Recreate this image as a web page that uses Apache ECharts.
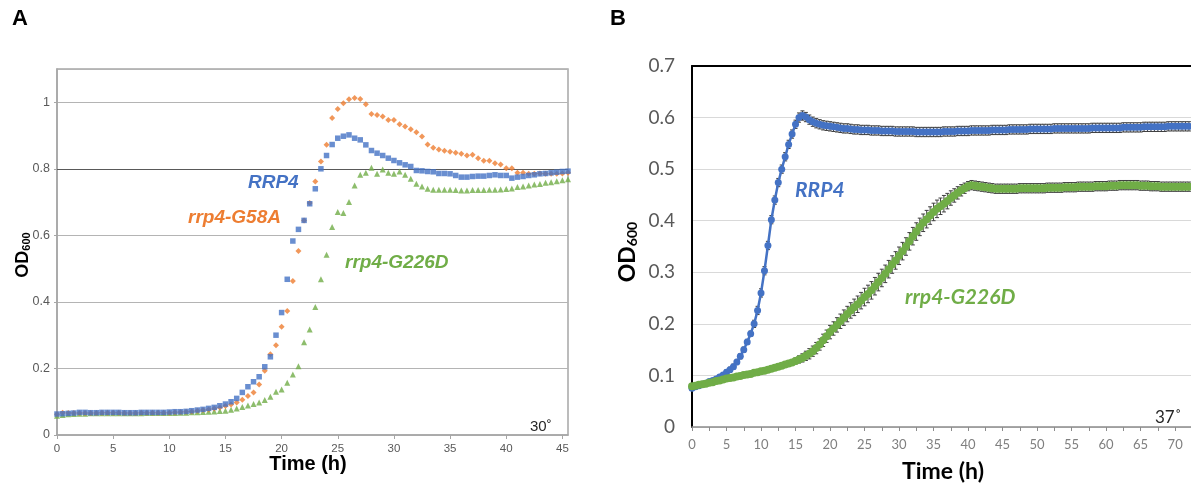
<!DOCTYPE html>
<html>
<head>
<meta charset="utf-8">
<script src="https://cdn.jsdelivr.net/npm/echarts@6/dist/echarts.min.js"></script>
<style>html,body{margin:0;padding:0;background:#fff}#c{width:1191px;height:486px}</style>
</head>
<body>
<div id="c"></div>
<script>
// ---------- Panel A (30°) : readings every 0.5 h from 0 to 45.5 h ----------
const stepA = 0.5;
const xTicksA = [0, 5, 10, 15, 20, 25, 30, 35, 40, 45];
const yTicksA = [0, 0.2, 0.4, 0.6, 0.8, 1];
const rrp4A = [
 0.063,0.064,0.065,0.066,0.068,0.068,0.067,0.067,0.068,0.068,
 0.068,0.068,0.067,0.067,0.067,0.068,0.068,0.068,0.068,0.068,
 0.069,0.070,0.070,0.071,0.073,0.075,0.077,0.080,0.083,0.088,
 0.093,0.100,0.110,0.128,0.145,0.160,0.175,0.205,0.235,0.300,
 0.368,0.468,0.583,0.618,0.645,0.695,0.740,0.800,0.840,0.873,
 0.892,0.898,0.902,0.892,0.887,0.872,0.855,0.847,0.840,0.832,
 0.825,0.818,0.812,0.807,0.795,0.794,0.792,0.791,0.786,0.786,
 0.785,0.780,0.775,0.775,0.777,0.778,0.778,0.780,0.782,0.780,
 0.780,0.772,0.775,0.777,0.780,0.782,0.785,0.786,0.788,0.790,
 0.792,0.793];
const g58aA = [
 0.062,0.067,0.066,0.066,0.066,0.066,0.066,0.066,0.067,0.067,
 0.067,0.067,0.066,0.066,0.066,0.067,0.067,0.067,0.067,0.067,
 0.067,0.068,0.069,0.070,0.071,0.073,0.075,0.077,0.080,0.083,
 0.087,0.092,0.098,0.106,0.117,0.128,0.152,0.193,0.243,0.270,
 0.325,0.373,0.463,0.553,0.645,0.697,0.762,0.822,0.872,0.953,
 0.980,0.997,1.009,1.013,1.010,0.994,0.965,0.962,0.957,0.947,
 0.947,0.934,0.927,0.919,0.910,0.897,0.873,0.863,0.858,0.854,
 0.851,0.848,0.845,0.840,0.842,0.832,0.824,0.824,0.817,0.813,
 0.802,0.802,0.788,0.788,0.785,0.785,0.786,0.785,0.785,0.785,
 0.786,0.788];
const g226dA = [
 0.058,0.060,0.062,0.063,0.064,0.064,0.065,0.065,0.065,0.065,
 0.065,0.065,0.065,0.065,0.065,0.065,0.066,0.066,0.066,0.066,
 0.066,0.066,0.067,0.067,0.068,0.068,0.069,0.070,0.071,0.072,
 0.073,0.076,0.080,0.084,0.089,0.093,0.098,0.105,0.115,0.130,
 0.137,0.157,0.182,0.207,0.279,0.317,0.385,0.468,0.542,0.625,
 0.670,0.667,0.700,0.750,0.782,0.788,0.803,0.785,0.798,0.788,
 0.785,0.792,0.782,0.770,0.755,0.747,0.740,0.737,0.737,0.737,
 0.737,0.736,0.735,0.735,0.736,0.736,0.736,0.737,0.737,0.738,
 0.739,0.741,0.745,0.747,0.750,0.753,0.754,0.758,0.760,0.763,
 0.766,0.769];

// ---------- Panel B (37°) : readings every 0.5 h from 0 to 72 h ----------
const stepB = 0.5;
const xTicksB = [0,5,10,15,20,25,30,35,40,45,50,55,60,65,70];
const yTicksB = [0,0.1,0.2,0.3,0.4,0.5,0.6,0.7];
const rrp4B = [
 .075,.078,.080,.083,.085,.088,.090,.093,.097,.101,
 .106,.111,.117,.126,.137,.150,.165,.181,.200,.226,
 .260,.303,.352,.402,.440,.474,.500,.524,.548,.568,
 .587,.600,.604,.601,.596,.592,.589,.587,.585,.584,
 .583,.582,.581,.580,.579,.579,.578,.577,.577,.576,
 .576,.576,.575,.575,.575,.574,.574,.574,.574,.573,
 .573,.573,.573,.573,.573,.572,.572,.572,.572,.572,
 .572,.572,.572,.573,.573,.573,.573,.574,.574,.574,
 .574,.575,.575,.575,.575,.575,.575,.576,.576,.576,
 .576,.576,.577,.577,.577,.577,.577,.577,.578,.578,
 .578,.578,.578,.578,.578,.579,.579,.579,.579,.579,
 .579,.579,.579,.579,.579,.579,.580,.580,.580,.580,
 .580,.580,.580,.580,.580,.581,.581,.581,.581,.581,
 .581,.582,.582,.582,.582,.582,.582,.582,.583,.583,
 .583,.583,.583,.583,.583];
const g226dB = [
 .079,.080,.082,.083,.084,.086,.087,.089,.090,.092,
 .094,.095,.096,.098,.099,.101,.102,.103,.105,.106,
 .108,.109,.111,.113,.115,.117,.119,.121,.123,.125,
 .128,.131,.134,.138,.142,.147,.153,.160,.168,.176,
 .184,.191,.198,.205,.212,.219,.226,.232,.238,.245,
 .252,.258,.265,.273,.281,.289,.297,.306,.315,.323,
 .332,.341,.350,.360,.370,.379,.388,.396,.403,.410,
 .417,.423,.428,.433,.438,.444,.449,.454,.459,.463,
 .467,.469,.468,.467,.466,.465,.464,.463,.462,.462,
 .462,.462,.462,.462,.462,.463,.463,.463,.463,.463,
 .463,.463,.463,.464,.464,.464,.464,.464,.465,.465,
 .465,.465,.466,.466,.466,.466,.466,.467,.467,.467,
 .467,.468,.468,.468,.469,.469,.469,.469,.469,.469,
 .468,.468,.468,.467,.467,.467,.466,.466,.466,.466,
 .466,.466,.466,.466,.466];
const rrp4ErrB = [
 .004,.004,.004,.004,.004,.004,.004,.004,.004,.004,
 .005,.005,.005,.005,.005,.005,.005,.005,.007,.008,
 .008,.008,.008,.008,.008,.008,.008,.008,.008,.008,
 .008,.009,.009,.009,.009,.009,.009,.009,.009,.009,
 .009,.009,.009,.009,.009,.009,.009,.009,.009,.009,
 .009,.009,.009,.009,.009,.009,.009,.009,.009,.009,
 .009,.009,.009,.009,.009,.009,.009,.009,.009,.009,
 .009,.009,.009,.009,.009,.009,.009,.009,.009,.009,
 .009,.009,.009,.009,.009,.009,.009,.009,.009,.009,
 .009,.009,.009,.009,.009,.009,.009,.009,.009,.009,
 .009,.009,.009,.009,.009,.009,.009,.009,.009,.009,
 .009,.009,.009,.009,.009,.009,.009,.009,.009,.009,
 .009,.009,.009,.009,.009,.009,.009,.009,.009,.009,
 .009,.009,.009,.009,.009,.009,.009,.009,.009,.009,
 .009,.009,.009,.009,.009];
const g226dErrB = [
 .005,.005,.005,.005,.005,.005,.005,.005,.005,.005,
 .005,.005,.005,.005,.005,.005,.005,.005,.005,.005,
 .005,.005,.005,.005,.005,.005,.005,.005,.005,.005,
 .006,.007,.008,.009,.010,.010,.011,.011,.012,.012,
 .013,.013,.014,.014,.015,.015,.015,.016,.016,.016,
 .017,.017,.017,.017,.017,.017,.017,.017,.017,.017,
 .017,.017,.017,.017,.017,.017,.017,.017,.017,.017,
 .017,.017,.016,.016,.015,.014,.013,.012,.011,.010,
 .009,.009,.009,.009,.009,.009,.009,.009,.009,.009,
 .009,.009,.009,.009,.009,.009,.009,.009,.009,.009,
 .009,.009,.009,.009,.009,.009,.009,.009,.009,.009,
 .009,.009,.009,.009,.009,.009,.009,.009,.009,.009,
 .009,.009,.009,.009,.009,.009,.009,.009,.009,.009,
 .009,.009,.009,.009,.009,.009,.009,.009,.009,.009,
 .009,.009,.009,.009,.009];

// ---------- build ----------
const pairs = (arr, step) => arr.map((v, i) => [i * step, v]);
const withErr = (arr, err, step) => arr.map((v, i) => [i * step, v, err[i]]);

const BLUE = '#4472C4', ORANGE = '#ED7D31', GREEN = '#70AD47';
const FA = 'Liberation Sans, Arial, sans-serif';
const FB = 'Lato, Open Sans, sans-serif';

function errRender(params, api) {
  const x = api.value(0), y = api.value(1), e = api.value(2);
  const t = api.coord([x, y + e]);
  const b = api.coord([x, y - e]);
  const s = { stroke: '#3f3f3f', lineWidth: 1 };
  const cw = 2;
  return { type: 'group', children: [
    { type: 'line', shape: { x1: t[0], y1: t[1], x2: b[0], y2: b[1] }, style: s },
    { type: 'line', shape: { x1: t[0] - cw, y1: t[1], x2: t[0] + cw, y2: t[1] }, style: s },
    { type: 'line', shape: { x1: b[0] - cw, y1: b[1], x2: b[0] + cw, y2: b[1] }, style: s }
  ]};
}

const chart = echarts.init(document.getElementById('c'), null, { renderer: 'canvas' });
chart.setOption({
  animation: false,
  backgroundColor: '#ffffff',
  grid: [
    { left: 57, top: 69, width: 511, height: 366, show: true, borderColor: '#a6a6a6', borderWidth: 1.5, backgroundColor: 'transparent' },
    { left: 692, top: 66, right: 0, bottom: 59 }
  ],
  xAxis: [
    { gridIndex: 0, type: 'value', min: xTicksA[0], max: 45.5, interval: xTicksA[1] - xTicksA[0],
      axisLine: { lineStyle: { color: '#a6a6a6', width: 1.5 } },
      axisTick: { show: true, length: 4, lineStyle: { color: '#a6a6a6' } },
      axisLabel: { showMaxLabel: false, color: '#595959', fontSize: 11.5, fontFamily: FA, margin: 8 },
      splitLine: { show: false } },
    { gridIndex: 1, type: 'value', min: xTicksB[0], max: 72.3, interval: xTicksB[1] - xTicksB[0],
      axisLine: { lineStyle: { color: '#8c8c8c', width: 1.5 } },
      axisTick: { show: true, length: 4, lineStyle: { color: '#8c8c8c' } },
      minorTick: { show: true, splitNumber: 2, length: 4, lineStyle: { color: '#8c8c8c' } },
      axisLabel: { showMaxLabel: false, color: '#7f7f7f', fontSize: 13, fontFamily: FB, margin: 11 },
      splitLine: { show: false } },
    { gridIndex: 1, type: 'value', position: 'top', min: 0, max: 72.3,
      axisLine: { lineStyle: { color: '#000', width: 2 } },
      axisTick: { show: false }, axisLabel: { show: false }, splitLine: { show: false } }
  ],
  yAxis: [
    { gridIndex: 0, type: 'value', min: yTicksA[0], max: 1.1, interval: yTicksA[1] - yTicksA[0],
      axisLine: { show: true, lineStyle: { color: '#a6a6a6', width: 1.5 } },
      axisTick: { show: true, length: 3, lineStyle: { color: '#a6a6a6' } },
      axisLabel: { showMaxLabel: false, color: '#595959', fontSize: 12.5, fontFamily: FA, margin: 7 },
      splitLine: { show: true, lineStyle: { color: '#b4b4b4', width: 1.2 } } },
    { gridIndex: 1, type: 'value', min: yTicksB[0], max: yTicksB[yTicksB.length - 1], interval: yTicksB[1] - yTicksB[0],
      axisLine: { show: true, lineStyle: { color: '#000', width: 2 } },
      axisTick: { show: false },
      axisLabel: { color: '#595959', fontSize: 19, fontFamily: FB, margin: 17 },
      splitLine: { show: true, lineStyle: { color: '#d9d9d9', width: 1 } } }
  ],
  series: [
    { type: 'scatter', xAxisIndex: 0, yAxisIndex: 0, data: pairs(g226dA, stepA), symbol: 'triangle', symbolSize: 6,
      itemStyle: { color: GREEN }, z: 3,
      markLine: { silent: true, symbol: 'none', label: { show: false }, lineStyle: { color: '#595959', type: 'solid', width: 1.2 }, data: [{ yAxis: 0.8 }], z: 1 } },
    { type: 'scatter', xAxisIndex: 0, yAxisIndex: 0, data: pairs(g58aA, stepA), symbol: 'diamond', symbolSize: 6,
      itemStyle: { color: ORANGE }, z: 4 },
    { type: 'scatter', xAxisIndex: 0, yAxisIndex: 0, data: pairs(rrp4A, stepA), symbol: 'rect', symbolSize: 5.5,
      itemStyle: { color: BLUE }, z: 5 },
    { type: 'custom', xAxisIndex: 1, yAxisIndex: 1, renderItem: errRender, data: withErr(rrp4B, rrp4ErrB, stepB),
      encode: { x: 0, y: 1 }, z: 2, silent: true },
    { type: 'custom', xAxisIndex: 1, yAxisIndex: 1, renderItem: errRender, data: withErr(g226dB, g226dErrB, stepB),
      encode: { x: 0, y: 1 }, z: 2, silent: true },
    { type: 'line', xAxisIndex: 1, yAxisIndex: 1, data: pairs(rrp4B, stepB), symbol: 'circle', symbolSize: 7,
      lineStyle: { color: BLUE, width: 2.5 }, itemStyle: { color: BLUE }, z: 4 },
    { type: 'line', xAxisIndex: 1, yAxisIndex: 1, data: pairs(g226dB, stepB), symbol: 'circle', symbolSize: 8,
      lineStyle: { color: GREEN, width: 5 }, itemStyle: { color: GREEN }, z: 5 }
  ],
  graphic: [
    { type: 'text', left: 12, top: 8, style: { text: 'A', font: 'bold 22px ' + FA, fill: '#000' } },
    { type: 'text', left: 610, top: 8, style: { text: 'B', font: 'bold 22px ' + FA, fill: '#000' } },
    { type: 'text', x: 248, y: 183, style: { text: 'RRP4', font: 'italic bold 19px ' + FA, fill: BLUE, verticalAlign: 'middle' } },
    { type: 'text', x: 188, y: 218, style: { text: 'rrp4-G58A', font: 'italic bold 19px ' + FA, fill: ORANGE, verticalAlign: 'middle' } },
    { type: 'text', x: 345, y: 263, style: { text: 'rrp4-G226D', font: 'italic bold 19px ' + FA, fill: GREEN, verticalAlign: 'middle' } },
    { type: 'text', x: 530, y: 427, style: { text: '30˚', font: '15px ' + FA, fill: '#262626', verticalAlign: 'middle' } },
    { type: 'text', x: 308, y: 464, style: { text: 'Time (h)', font: 'bold 20px ' + FA, fill: '#000', align: 'center', verticalAlign: 'middle' } },
    { type: 'text', x: 21, y: 255, rotation: Math.PI / 2,
      style: { text: '{a|OD}{b|600}', align: 'center', verticalAlign: 'middle',
        rich: { a: { font: 'bold 18px ' + FA, fill: '#000', lineHeight: 22, verticalAlign: 'bottom' },
                b: { font: 'bold 11px ' + FA, fill: '#000', lineHeight: 22, verticalAlign: 'bottom', padding: [6, 0, 0, 0] } } } },
    { type: 'text', x: 795, y: 190, style: { text: 'RRP4', font: 'italic bold 21px ' + FB, fill: BLUE, verticalAlign: 'middle' } },
    { type: 'text', x: 905, y: 297, style: { text: 'rrp4-G226D', font: 'italic bold 21px ' + FB, fill: GREEN, verticalAlign: 'middle' } },
    { type: 'text', x: 1155, y: 418, style: { text: '37˚', font: '17px ' + FB, fill: '#262626', verticalAlign: 'middle' } },
    { type: 'text', x: 943, y: 472, style: { text: 'Time (h)', font: 'bold 23px ' + FB, fill: '#000', align: 'center', verticalAlign: 'middle' } },
    { type: 'text', x: 625, y: 252, rotation: Math.PI / 2,
      style: { text: '{a|OD}{b|600}', align: 'center', verticalAlign: 'middle',
        rich: { a: { font: 'bold 23px ' + FB, fill: '#000', lineHeight: 28, verticalAlign: 'bottom' },
                b: { font: 'bold 14px ' + FB, fill: '#000', lineHeight: 28, verticalAlign: 'bottom', padding: [8, 0, 0, 0] } } } }
  ]
});
</script>
</body>
</html>
